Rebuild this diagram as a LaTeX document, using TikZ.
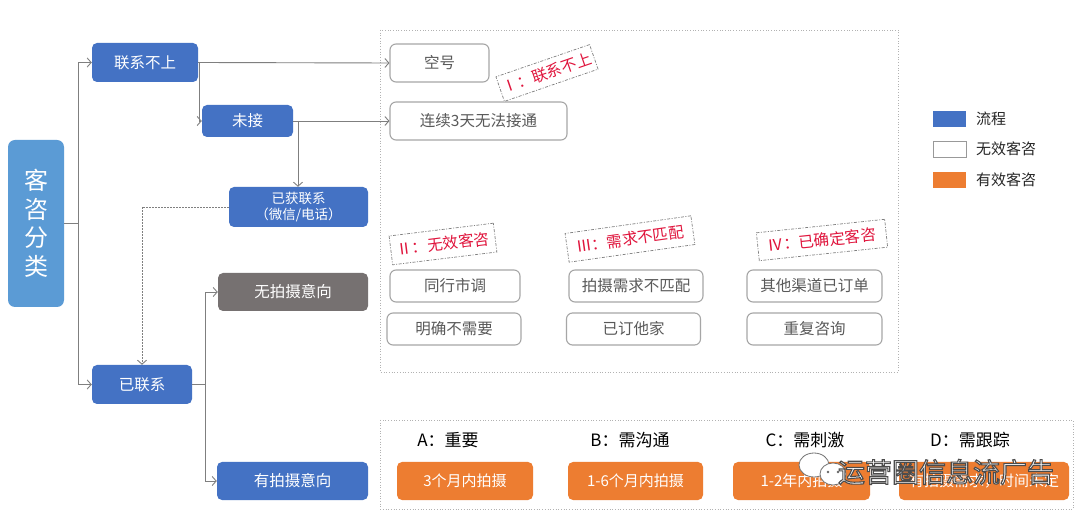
\documentclass[tikz,border=0pt]{standalone}
\usepackage{fontspec}
\setmainfont{Noto Sans CJK SC}
\usetikzlibrary{arrows.meta}
\definecolor{flowblue}{HTML}{4472C4}
\definecolor{kzblue}{HTML}{5B9BD5}
\definecolor{boxgray}{HTML}{767171}
\definecolor{orangebox}{HTML}{ED7D31}
\definecolor{stampred}{HTML}{E0143C}
\definecolor{linegray}{HTML}{7F7F7F}
\definecolor{bordergray}{HTML}{A6A6A6}
\definecolor{txtgray}{HTML}{595959}
\tikzset{
  fs/.style={font=\fontsize{#1}{#1}\selectfont},
  bluebox/.style={rectangle, rounded corners=5pt, fill=flowblue, draw=none, text=white, inner sep=0pt, fs=15.5},
  greybox/.style={rectangle, rounded corners=5pt, fill=boxgray, draw=none, text=white, inner sep=0pt, fs=15.5},
  whitebox/.style={rectangle, rounded corners=6pt, fill=white, draw=bordergray, line width=1.1pt, text=txtgray, inner sep=0pt, fs=15.5},
  orbox/.style={rectangle, rounded corners=5pt, fill=orangebox, draw=none, text=white, inner sep=0pt, fs=15},
  stamp/.style={rectangle, draw=linegray, dash pattern=on 3pt off 1.5pt on 1pt off 1.5pt, line width=0.7pt, fill=white, text=stampred, inner sep=0pt, fs=15.5},
  conn/.style={draw=linegray, line width=0.9pt},
  arr/.style={conn, -{Straight Barb[length=4pt,width=9pt]}},
  frame/.style={draw=black!30, dotted, line width=0.7pt},
  catlabel/.style={text=black, fs=17, inner sep=0pt},
  legtext/.style={text=black!85, fs=15, anchor=west, inner sep=0pt},
}
\begin{document}
\begin{tikzpicture}[x=1pt,y=-1pt]
\useasboundingbox[fill=white] (0,0) rectangle (1080,521);
% frames
\draw[frame] (380,30) rectangle (898,372);
\draw[frame] (380,420) rectangle (1073,509);
% flow nodes
\node[rectangle, rounded corners=7pt, fill=kzblue, text=white, inner sep=0pt, minimum width=56pt, minimum height=167pt, align=center, font=\fontsize{24}{28.5}\selectfont] (kz) at (36,223.5) {客\\咨\\分\\类};
\node[bluebox, minimum width=106pt, minimum height=39pt] (lx) at (145,62.5) {联系不上};
\node[bluebox, minimum width=91pt, minimum height=32pt] (wj) at (247.5,121) {未接};
\node[bluebox, minimum width=139pt, minimum height=40pt, align=center, font=\fontsize{13.5}{16}\selectfont] (yh) at (298.5,207) {已获联系\\（微信/电话）};
\node[bluebox, minimum width=100pt, minimum height=39pt] (ylx) at (142,384.5) {已联系};
\node[greybox, minimum width=150pt, minimum height=38pt] (wps) at (293,292) {无拍摄意向};
\node[bluebox, minimum width=151pt, minimum height=38pt] (yps) at (292.5,481) {有拍摄意向};
% invalid boxes
\node[whitebox, minimum width=99pt, minimum height=38pt] (kh) at (439.5,63) {空号};
\node[whitebox, minimum width=177pt, minimum height=38pt] (lx3) at (478.5,121) {连续3天无法接通};
\node[whitebox, minimum width=130pt, minimum height=32pt] (th) at (455,286) {同行市调};
\node[whitebox, minimum width=134pt, minimum height=32pt] (ps) at (636,286) {拍摄需求不匹配};
\node[whitebox, minimum width=135pt, minimum height=32pt] (qt) at (814.5,286) {其他渠道已订单};
\node[whitebox, minimum width=134pt, minimum height=32pt] (mq) at (454,329) {明确不需要};
\node[whitebox, minimum width=134pt, minimum height=32pt] (yd) at (633.5,329) {已订他家};
\node[whitebox, minimum width=135pt, minimum height=32pt] (cf) at (814.5,329) {重复咨询};
% stamps
\node[stamp, minimum width=99pt, minimum height=26pt, rotate=19] (s1) at (547,73) {Ⅰ：联系不上};
\node[stamp, minimum width=105pt, minimum height=29pt, rotate=7] (s2) at (443,244) {Ⅱ：无效客咨};
\node[stamp, minimum width=127pt, minimum height=29pt, rotate=8] (s3) at (630,239) {Ⅲ：需求不匹配};
\node[stamp, minimum width=129pt, minimum height=28pt, rotate=6] (s4) at (822,240) {Ⅳ：已确定客咨};
% legend
\node[rectangle, fill=flowblue, minimum width=33pt, minimum height=16pt, inner sep=0pt] (lg1) at (949.5,119) {};
\node[rectangle, fill=white, draw=black!40, line width=0.6pt, minimum width=33pt, minimum height=16pt, inner sep=0pt] (lg2) at (949.5,149) {};
\node[rectangle, fill=orangebox, minimum width=33pt, minimum height=16pt, inner sep=0pt] (lg3) at (949.5,180) {};
\node[legtext] (lt1) at (976,119) {流程};
\node[legtext] (lt2) at (976,149) {无效客咨};
\node[legtext] (lt3) at (976,180) {有效客咨};
% categories
\node[catlabel] (ca) at (448,440) {A：重要};
\node[catlabel] (cb) at (630,440) {B：需沟通};
\node[catlabel] (cc) at (805,440) {C：需刺激};
\node[catlabel] (cd) at (970,440) {D：需跟踪};
\node[orbox, minimum width=136pt, minimum height=38pt] (o1) at (465,481) {3个月内拍摄};
\node[orbox, minimum width=135pt, minimum height=38pt] (o2) at (635.5,481) {1-6个月内拍摄};
\node[orbox, minimum width=137pt, minimum height=38pt] (o3) at (801.5,481) {1-2年内拍摄};
\node[orbox, minimum width=170pt, minimum height=38pt] (o4) at (984,481) {有拍摄需求，时间未定};
% connectors
\coordinate (j1) at (78,223.5);
\draw[conn] (kz.east) -- (j1);
\draw[arr] (j1) |- (lx.west);
\draw[arr] (j1) |- (ylx.west);
\draw[arr] (lx.east) -- (kh.west);
\coordinate (j2) at (199.5,62.5);
\draw[arr] (j2) |- (wj.west);
\draw[arr] (wj.east) -- (lx3.west);
\coordinate (j3) at (298,121);
\draw[arr] (j3) -- (j3 |- yh.north);
\draw[arr, dashed, dash pattern=on 2pt off 1pt] (yh.west) -| (ylx.north);
\coordinate (j4) at (205,384.5);
\draw[conn] (ylx.east) -- (j4);
\draw[arr] (j4) |- (wps.west);
\draw[arr] (j4) |- (yps.west);
% watermark
\fill[white, draw=black!55, line width=0.8pt] (814,465) ellipse (15pt and 12pt);
\fill[white, draw=black!55, line width=0.8pt] (833,474) ellipse (13pt and 11pt);
\fill[black!60] (828,472) circle (1.4pt);
\fill[black!60] (838,472) circle (1.4pt);
\node[text=white, fs=27, inner sep=0pt] (wm) at (946,472) {\special{pdf:literal direct 2 Tr 1.1 w 0.3 G}运营圈信息流广告\special{pdf:literal direct 0 Tr}};
\end{tikzpicture}
\end{document}
